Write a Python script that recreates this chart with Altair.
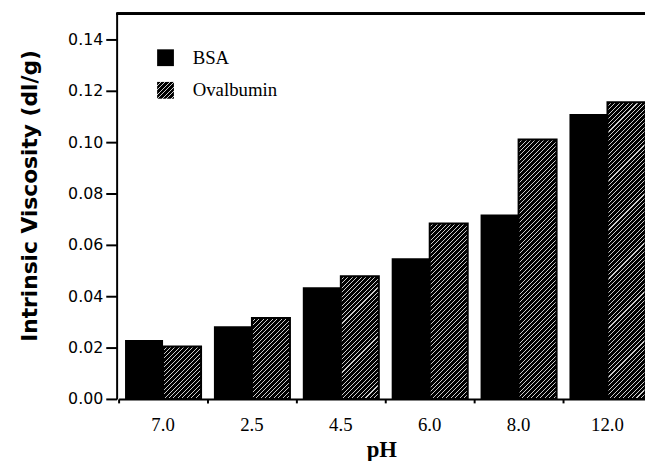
import altair as alt
import pandas as pd

# ---- data ----
ph_labels = ["7.0", "2.5", "4.5", "6.0", "8.0", "12.0"]
series_names = ["BSA", "Ovalbumin"]
bsa = [0.0230, 0.0283, 0.0435, 0.0548, 0.0718, 0.1110]
ovalbumin = [0.0204, 0.0315, 0.0478, 0.0683, 0.1010, 0.1155]

rows = []
for i, p in enumerate(ph_labels):
    rows.append({"pH": p, "protein": series_names[0], "viscosity": bsa[i]})
    rows.append({"pH": p, "protein": series_names[1], "viscosity": ovalbumin[i]})
df = pd.DataFrame(rows)

# ---- layout / style ----
PLOT_W = 535
PLOT_H = 390
Y_MAX = 0.15
STEP = 90
OFFSET_PAD = 0.169
BAR_W = STEP / (2 + 2 * OFFSET_PAD)
PX = PLOT_H / Y_MAX
PERIOD = 4.5
L = BAR_W + PLOT_H
N = int(round(L / PERIOD))


def stops_expr(n, dark="#000000", light="#cccccc", frac=0.77):
    parts = [f"{{offset:0,color:'{dark}'}}"]
    for k in range(n):
        a = (k + frac) / n
        b = (k + 1) / n
        parts += [
            f"{{offset:{a:.5f},color:'{dark}'}}",
            f"{{offset:{a:.5f},color:'{light}'}}",
            f"{{offset:{b:.5f},color:'{light}'}}",
            f"{{offset:{b:.5f},color:'{dark}'}}",
        ]
    return "[" + ",".join(parts) + "]"


STOPS = stops_expr(N)
H = f"(datum.viscosity*{PX:.4f})"
DEN = f"({BAR_W:.4f}*{BAR_W:.4f}+{H}*{H})"
bar_grad = (
    f"{{gradient:'linear',x1:0,y1:0,"
    f"x2:{L:.4f}*{BAR_W:.4f}/{DEN},y2:{L:.4f}*{H}/{DEN},stops:{STOPS}}}"
)
SWATCH = 17
k = PERIOD * N / (2 * SWATCH)
legend_grad = f"{{gradient:'linear',x1:0,y1:0,x2:{k:.4f},y2:{k:.4f},stops:{STOPS}}}"

x_enc = alt.X(
    "pH:N",
    sort=ph_labels,
    scale=alt.Scale(range=[2, 2 + 6 * STEP], paddingInner=0, paddingOuter=0),
    axis=alt.Axis(
        title="pH",
        bandPosition=0,
        labelAngle=0,
        labelFont="Liberation Serif",
        labelFontSize=19,
        labelColor="black",
        labelPadding=13,
        tickSize=4,
        tickWidth=2,
        tickColor="black",
        domainColor="black",
        domainWidth=2,
        titleFont="Liberation Serif",
        titleFontSize=23,
        titleFontWeight="bold",
        titleColor="black",
        titleX=268,
        titleY=58,
        titleBaseline="alphabetic",
        titleAlign="center",
    ),
)
xoff_enc = alt.XOffset(
    "protein:N",
    sort=series_names,
    scale=alt.Scale(domain=series_names, paddingInner=0, paddingOuter=OFFSET_PAD),
)
y_enc = alt.Y(
    "viscosity:Q",
    stack=None,
    scale=alt.Scale(domain=[0, Y_MAX], nice=False, zero=True),
    axis=alt.Axis(
        title="Intrinsic Viscosity (dl/g)",
        values=[round(i * 0.01, 2) for i in range(15)],
        labelExpr="round(datum.value*100) % 2 === 0 ? format(datum.value, '.2f') : ''",
        tickSize={"condition": {"test": "round(datum.value*100) % 2 === 0", "value": 11}, "value": 5},
        tickWidth=2,
        tickColor="black",
        labelFont="DejaVu Sans",
        labelFontSize=16,
        labelColor="black",
        labelPadding=3,
        domainColor="black",
        domainWidth=2,
        grid=False,
        titleFont="DejaVu Sans",
        titleFontSize=22,
        titleFontWeight="bold",
        titleColor="black",
        titleAngle=270,
        titleX=-88,
        titleY=184,
        titleAlign="center",
        titleBaseline="middle",
    ),
)

bars = alt.Chart(df).mark_bar(strokeWidth=0).encode(
    x=x_enc,
    xOffset=xoff_enc,
    y=y_enc,
    color=alt.Color(
        "protein:N",
        sort=series_names,
        scale=alt.Scale(domain=series_names, range=["black", alt.ExprRef(expr=legend_grad)]),
        legend=alt.Legend(
            title=None,
            orient="none",
            legendX=40,
            legendY=35,
            padding=0,
            symbolType="square",
            symbolSize=SWATCH * SWATCH,
            symbolStrokeWidth=0,
            labelFont="Liberation Serif",
            labelFontSize=19,
            labelColor="black",
            labelOffset=18,
            rowPadding=13,
        ),
    ),
)

hatch = (
    alt.Chart(df)
    .transform_filter(alt.datum.protein == series_names[1])
    .transform_calculate(grad=bar_grad)
    .mark_bar(stroke="black", strokeWidth=2)
    .encode(
        x=alt.X("pH:N", sort=ph_labels),
        xOffset=alt.XOffset("protein:N", sort=series_names),
        y=alt.Y("viscosity:Q", stack=None),
        fill=alt.Fill("grad:N", scale=None),
    )
)

top_border = alt.Chart(df).mark_rule(color="black", strokeWidth=2).encode(
    y=alt.YDatum(Y_MAX)
)

chart = (
    alt.layer(bars, hatch, top_border)
    .properties(
        width=PLOT_W,
        height=PLOT_H,
        autosize=alt.AutoSizeParams(type="none"),
        padding={"left": 110, "top": 3, "right": 0, "bottom": 60},
        background="white",
    )
    .configure_view(stroke=None)
)

chart.save("out.html", embed_options={"renderer": "svg", "actions": False})
